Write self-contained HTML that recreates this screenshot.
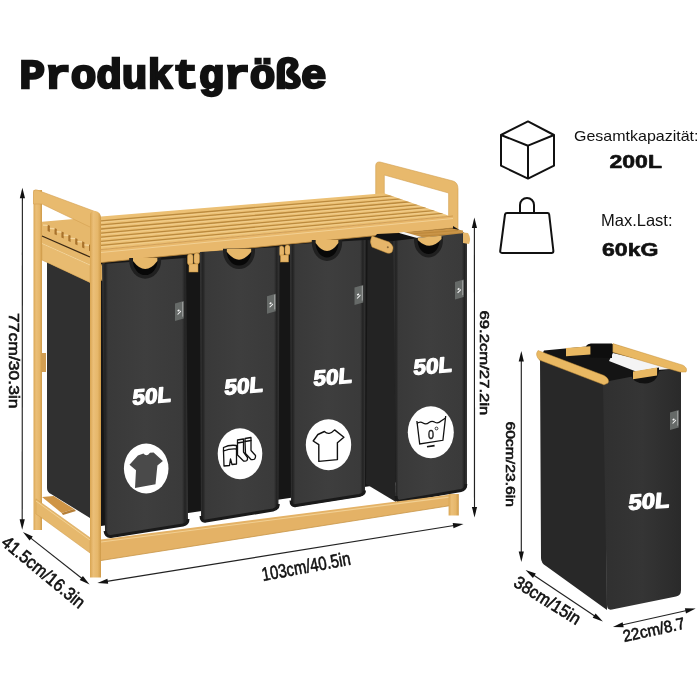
<!DOCTYPE html>
<html><head><meta charset="utf-8">
<style>
html,body{margin:0;padding:0;background:#fff;width:700px;height:700px;overflow:hidden}
svg{display:block;will-change:transform}
</style></head>
<body>
<svg width="700" height="700" viewBox="0 0 700 700" font-family="Liberation Sans, sans-serif">
<defs>
<linearGradient id="binf" x1="0" y1="0" x2="1" y2="0">
<stop offset="0" stop-color="#383838"/><stop offset="0.035" stop-color="#222"/><stop offset="0.07" stop-color="#393939"/><stop offset="0.5" stop-color="#3e3e3e"/><stop offset="0.93" stop-color="#3a3a3a"/><stop offset="0.965" stop-color="#222"/><stop offset="1" stop-color="#383838"/>
</linearGradient>
<linearGradient id="binsm" x1="0" y1="0" x2="1" y2="0">
<stop offset="0" stop-color="#303030"/><stop offset="0.5" stop-color="#353535"/><stop offset="1" stop-color="#2a2a2a"/>
</linearGradient>
<linearGradient id="woodv" x1="0" y1="0" x2="1" y2="0">
<stop offset="0" stop-color="#d9a552"/><stop offset="0.3" stop-color="#ebbf78"/><stop offset="0.7" stop-color="#e6b76a"/><stop offset="1" stop-color="#cf9a48"/>
</linearGradient>
</defs>
<rect width="700" height="700" fill="#fff"/>

<!-- Title -->
<text x="19.5" y="87.8" font-family="Liberation Mono" font-weight="bold" font-size="41" fill="#111" stroke="#111" stroke-width="2.4" textLength="307" lengthAdjust="spacingAndGlyphs">Produktgröße</text>

<!-- ===== MAIN UNIT ===== -->
<!-- right armrest -->
<path d="M375.7 166 Q375.7 161.5 380 162 L453 181 Q458 182.5 458 189 L458 229 L448.6 229 L448.6 193 L384.3 175 L384.3 200 L375.7 200 Z" fill="#e8b96c" stroke="#d2a050" stroke-width="0.6"/>
<!-- dark back region behind bins -->
<path d="M101 258 L453 226 L466 234 L466 472 L195 512 L101 526 Z" fill="#161616"/>

<!-- side fabric panel of bin 1 -->
<path d="M47 262 L90 276 L90 518 L51 494 Q47 492 47 488 Z" fill="#303030"/>
<!-- back-left post -->
<rect x="33.5" y="190" width="8.5" height="340" fill="url(#woodv)"/>
<!-- left side shelf frame (comb + rail) -->
<path d="M42 221.8 L74 219 L90 224 L90 282.5 L42 260 Z" fill="#e6b86c"/>
<path d="M42 243.5 L90 265 L90 282.5 L42 260 Z" fill="#e8bb70" stroke="#d1a052" stroke-width="0.5"/>
<path d="M42 243.5 L90 265" stroke="#f3d49a" stroke-width="1"/>
<g>
<path d="M47.6 224.8 L49.9 225.7 L49.9 232.0 L47.6 231.0 Z" fill="#a8722c"/>
<path d="M43.0 224.5 L47.6 224.8 L47.6 226.1 L43.0 225.8 Z" fill="#f4d69e"/>
<path d="M54.5 228.1 L56.8 229.0 L56.8 235.3 L54.5 234.3 Z" fill="#a8722c"/>
<path d="M49.9 227.8 L54.5 228.1 L54.5 229.4 L49.9 229.1 Z" fill="#f4d69e"/>
<path d="M61.4 231.4 L63.7 232.3 L63.7 238.6 L61.4 237.6 Z" fill="#a8722c"/>
<path d="M56.8 231.1 L61.4 231.4 L61.4 232.7 L56.8 232.4 Z" fill="#f4d69e"/>
<path d="M68.3 234.7 L70.6 235.6 L70.6 241.9 L68.3 240.9 Z" fill="#a8722c"/>
<path d="M63.7 234.4 L68.3 234.7 L68.3 236.0 L63.7 235.7 Z" fill="#f4d69e"/>
<path d="M75.2 238.0 L77.5 238.9 L77.5 245.2 L75.2 244.2 Z" fill="#a8722c"/>
<path d="M70.6 237.7 L75.2 238.0 L75.2 239.3 L70.6 239.0 Z" fill="#f4d69e"/>
<path d="M82.1 241.3 L84.4 242.2 L84.4 248.5 L82.1 247.5 Z" fill="#a8722c"/>
<path d="M77.5 241.0 L82.1 241.3 L82.1 242.6 L77.5 242.3 Z" fill="#f4d69e"/>
<path d="M89.0 244.6 L91.3 245.5 L91.3 251.8 L89.0 250.8 Z" fill="#a8722c"/>
<path d="M84.4 244.3 L89.0 244.6 L89.0 245.9 L84.4 245.6 Z" fill="#f4d69e"/>
</g>
<path d="M42 236 L90 257" stroke="#3a2814" stroke-width="1.3"/>
<!-- left armrest -->
<path d="M33.5 192 Q34 189 37 190 L95 211.5 Q101 214 101 220 L90 227 L42 204 L33.5 204 Z" fill="#e8ba6e" stroke="#d4a050" stroke-width="0.6"/>
<!-- lower left side rail -->
<path d="M42 497 L53.6 496 L74 509 L61.6 513 Z" fill="#cf9546"/>
<path d="M61.6 513 L74 509 L76 511 L63 515 Z" fill="#b57f38"/>
<path d="M35.9 498.9 L90 537.7 L90 553 L42 518 L35.9 514 Z" fill="#e6b86c" stroke="#cf9a48" stroke-width="0.5"/>
<path d="M36 501 L90 540" stroke="#f2d194" stroke-width="1"/>

<!-- shelf top surface -->
<clipPath id="shelfclip"><path d="M101 216.6 L384 193.2 L448 215.5 L453 216 L101 249.6 Z"/></clipPath>
<path d="M101 216.6 L384 193.2 L448 215.5 L453 216 L101 249.6 Z" fill="#ecc074"/>
<g clip-path="url(#shelfclip)">
<g stroke="#bb8a3e" stroke-width="1.3" fill="none">
<path d="M101 220.8 L453 190.6"/>
<path d="M101 224.9 L453 194.3"/>
<path d="M101 229.0 L453 198.0"/>
<path d="M101 233.1 L453 201.6"/>
<path d="M101 237.2 L453 205.2"/>
<path d="M101 241.3 L453 208.8"/>
<path d="M101 245.4 L453 212.4"/>
</g>
<g stroke="#f3d49a" stroke-width="0.8" fill="none" opacity="0.8">
<path d="M101 222.4 L453 192"/>
<path d="M101 226.5 L453 195.7"/>
<path d="M101 230.6 L453 199.4"/>
<path d="M101 234.7 L453 203"/>
<path d="M101 238.8 L453 206.6"/>
<path d="M101 242.9 L453 210.2"/>
<path d="M101 247 L453 213.8"/>
</g>
</g>
<!-- shelf front rail -->
<path d="M101 249.6 L453 216 L453 228 L101 262.6 Z" fill="#e8b86c"/>
<path d="M101 249.6 L453 216" stroke="#c9944a" stroke-width="0.8"/>
<path d="M101 252.5 L453 218.5" stroke="#f2d093" stroke-width="1"/>
<path d="M101 262.6 L453 228" stroke="#b9863c" stroke-width="0.8"/>

<!-- connectors -->
<g fill="#e6b66a" stroke="#c38e3a" stroke-width="0.5">
<rect x="101" y="264" width="5" height="17" rx="2"/>
<rect x="187.5" y="254" width="5.5" height="11" rx="2.5"/>
<rect x="194" y="253" width="5.5" height="11" rx="2.5"/>
<rect x="189" y="264" width="9" height="8"/>
<rect x="279" y="246" width="5" height="10" rx="2.5"/>
<rect x="285" y="245" width="5" height="10" rx="2.5"/>
<rect x="280.5" y="255" width="8" height="7"/>
</g>

<!-- bin 1 -->
<path d="M102 264 L186 258 L188 520 Q188 525 183 525.5 L111 537 Q105 538 105 532 Z" fill="url(#binf)"/>
<path d="M105 531 Q106 537 111 536.5 L183 525 Q188 524 188 519" fill="none" stroke="#1a1a1a" stroke-width="3"/>
<!-- bin 2 -->
<path d="M200 252 L279.5 247 L278.5 505 Q278.5 510 273.5 510.5 L206 521.5 Q201 522 201 517 Z" fill="url(#binf)"/>
<path d="M201 516 Q201 522 206 521 L273 510 Q278 509 278.5 504" fill="none" stroke="#1a1a1a" stroke-width="3"/>
<!-- bin 3 -->
<path d="M290 244.5 L365.5 240 L365 491.5 Q365 495.5 360 496.5 L296 506.5 Q291 507 291 501.5 Z" fill="url(#binf)"/>
<path d="M291 500.5 Q291 506.5 296 505.5 L359 495.5 Q364.5 494.5 364.5 490.5" fill="none" stroke="#1a1a1a" stroke-width="3"/>
<!-- bin4 slide board -->
<path d="M405 232.5 L452 228.5 L463 230.5 L463 236.5 L412 239.5 Z" fill="#c99447"/>
<path d="M410 234 L458 230.5 M414 236.5 L460 233.5" stroke="#b98436" stroke-width="0.8"/>
<!-- bin4 white stripe -->
<path d="M399 232.5 L404 232 L425 238 L425 240 L402 236 Z" fill="#f6f6f6"/>
<!-- bin4 interior -->
<path d="M377 234 L399 233 L424 240 L394 242 L372 240 Z" fill="#121212"/>
<!-- bin 4 side -->
<path d="M367.6 240 L393.5 240.9 L396 502 L366 484 Z" fill="#232323"/>
<!-- bin 4 front -->
<path d="M393.3 240.9 L465 233 L467 235 L467 485 Q467 490 462 490.5 L401 502 Q396 502.5 396 497 Z" fill="url(#binf)"/>
<path d="M396 496 Q396 502 401 501 L461 490.5 Q465.8 489.5 465.8 484" fill="none" stroke="#1a1a1a" stroke-width="3"/>

<!-- handles -->
<path d="M129.2 258.0 L129.2 260.0 A16 18.7 0 0 0 161.2 260.0 L161.2 258.0 Z" fill="#202020"/>
<path d="M132.8 258.0 L132.8 260.0 A12.4 15.1 0 0 0 157.6 260.0 L157.6 258.0 Z" fill="#080808"/>
<path d="M133.0 258.0 L133.0 261.0 Q145.2 277.0 157.4 261.0 L157.4 258.0 Z" fill="#e7b86a"/>
<path d="M223 248.7 L223 250.7 A16 18.4 0 0 0 255 250.7 L255 248.7 Z" fill="#202020"/>
<path d="M226.6 248.7 L226.6 250.7 A12.4 14.8 0 0 0 251.4 250.7 L251.4 248.7 Z" fill="#080808"/>
<path d="M226.8 248.7 L226.8 251.7 Q239 267.7 251.2 251.7 L251.2 248.7 Z" fill="#e7b86a"/>
<path d="M311.8 240.1 L311.8 242.1 A15.2 18.9 0 0 0 342.2 242.1 L342.2 240.1 Z" fill="#202020"/>
<path d="M315.4 240.1 L315.4 242.1 A11.6 15.3 0 0 0 338.6 242.1 L338.6 240.1 Z" fill="#080808"/>
<path d="M315.6 240.1 L315.6 243.1 Q327 259.1 338.4 243.1 L338.4 240.1 Z" fill="#e7b86a"/>
<path d="M414 238 L414 240 A14.5 17.5 0 0 0 443 240 L443 237 Z" fill="#202020"/>
<path d="M417.6 237.8 L417.6 240 A11 14 0 0 0 439.6 240 L439.6 237.5 Z" fill="#080808"/>
<path d="M417.8 237.7 L417.8 240 Q430 252 441.5 239 L441.5 235.8 Z" fill="#e7b86a"/>
<path d="M42 353 L46 353 L46 372 L42 372 Z" fill="#d29e52"/>
<!-- bin4 rod left end -->
<path d="M372 236 L389 242 Q395 246 392 252 Q390 254 387 253 L372 247 Q369 241.5 372 236 Z" fill="#e6b66a" stroke="#c38e3a" stroke-width="0.5"/><circle cx="387.8" cy="247.2" r="1" fill="#8a6a3a"/>
<path d="M463 232.5 L468 233 Q471.5 238.5 469 244 L463 243 Z" fill="#e6b66a"/>

<!-- labels -->
<g transform="translate(175,301)"><path d="M0 2.5 L8.7 0 L8.7 17.5 L0 20 Z" fill="#666a68"/><path d="M2.3 9.5 L4 8.3 L4.8 9.8 L3 10.8 Z M2.2 13.2 L5.8 9.6 L6.2 10.6 L3 13.8 Z" fill="#f4f4f4"/><path d="M7.3 1 L8.2 0.8 L8.2 15.5 L7.3 15.8 Z" fill="#c8c8c8" opacity="0.7"/></g>
<g transform="translate(267,293.8)"><path d="M0 2.5 L8.7 0 L8.7 17.5 L0 20 Z" fill="#666a68"/><path d="M2.3 9.5 L4 8.3 L4.8 9.8 L3 10.8 Z M2.2 13.2 L5.8 9.6 L6.2 10.6 L3 13.8 Z" fill="#f4f4f4"/><path d="M7.3 1 L8.2 0.8 L8.2 15.5 L7.3 15.8 Z" fill="#c8c8c8" opacity="0.7"/></g>
<g transform="translate(354.5,285)"><path d="M0 2.5 L8.7 0 L8.7 17.5 L0 20 Z" fill="#666a68"/><path d="M2.3 9.5 L4 8.3 L4.8 9.8 L3 10.8 Z M2.2 13.2 L5.8 9.6 L6.2 10.6 L3 13.8 Z" fill="#f4f4f4"/><path d="M7.3 1 L8.2 0.8 L8.2 15.5 L7.3 15.8 Z" fill="#c8c8c8" opacity="0.7"/></g>
<g transform="translate(455,279.4)"><path d="M0 2.5 L8.7 0 L8.7 17.5 L0 20 Z" fill="#666a68"/><path d="M2.3 9.5 L4 8.3 L4.8 9.8 L3 10.8 Z M2.2 13.2 L5.8 9.6 L6.2 10.6 L3 13.8 Z" fill="#f4f4f4"/><path d="M7.3 1 L8.2 0.8 L8.2 15.5 L7.3 15.8 Z" fill="#c8c8c8" opacity="0.7"/></g>

<!-- front-left post -->
<path d="M90 215 Q90 211 95 211 Q101 212 101 218 L101 577.4 L90 577.4 Z" fill="url(#woodv)"/>
<!-- bottom front rail -->
<path d="M101 539.5 L451 494.5 L451 505.5 L101 560.5 Z" fill="#e4b266"/>
<path d="M101 542 L451 496.8" fill="none" stroke="#f1cf92" stroke-width="1.2"/>
<path d="M101 560.5 L451 505.5" fill="none" stroke="#c89548" stroke-width="0.8"/>
<!-- right leg -->
<rect x="448.6" y="494" width="10.2" height="21.5" fill="url(#woodv)"/>

<!-- 50L texts -->
<g fill="#fff" font-weight="bold" font-size="21.5" stroke="#fff" stroke-width="1.2" stroke-linejoin="round">
<text transform="translate(132,405) rotate(-5) skewX(-9)" textLength="39" lengthAdjust="spacingAndGlyphs">50L</text>
<text transform="translate(224,395) rotate(-5) skewX(-9)" textLength="39" lengthAdjust="spacingAndGlyphs">50L</text>
<text transform="translate(313,386) rotate(-5) skewX(-9)" textLength="39" lengthAdjust="spacingAndGlyphs">50L</text>
<text transform="translate(413,375) rotate(-5) skewX(-9)" textLength="39" lengthAdjust="spacingAndGlyphs">50L</text>
</g>
<!-- circles -->
<g fill="#fff">
<ellipse cx="146.2" cy="468.5" rx="22.3" ry="25"/>
<ellipse cx="240" cy="453.8" rx="22.3" ry="25.5"/>
<ellipse cx="328.5" cy="444.7" rx="22.7" ry="25.5"/>
<ellipse cx="430.8" cy="432.3" rx="23" ry="26"/>
</g>
<!-- shirt dark -->
<path d="M129.5 464.7 L137.9 455.4 L143.4 453.6 Q146.5 457.5 150 452.8 L153.6 452.6 L162.9 461 L157.4 465.6 L155.5 484.2 L135 488 L136 470.3 Z" fill="#4a4a4a"/>
<!-- shirt outline -->
<path d="M313.2 441 L317.9 434.5 L324.4 431.5 Q329 436 334.6 429.9 L343.9 437.3 L337.4 442.8 L337.4 459.6 L318.8 461.4 L318.8 444.7 Z" fill="none" stroke="#111" stroke-width="1.4" stroke-linejoin="round"/>
<!-- socks + shorts -->
<g fill="none" stroke="#111" stroke-width="1.3" stroke-linejoin="round" stroke-linecap="round">
<path d="M223.5 447.5 Q229.5 444.5 236.5 445.5 L236.5 449 Q229.5 448.5 223.5 451 Z"/>
<path d="M223.5 451 L224 466 L229.5 465.5 L230.5 459 L232 464.5 L236.5 464 L236.5 449"/>
<path d="M237.5 440 L243.5 439 L243.5 442 L237.5 443 Z"/>
<path d="M237.5 443 L237.5 455 L243.5 461 Q248 462 247.5 457.5 L243.5 452 L243.5 442"/>
<path d="M245 438.5 L251 437.5 L251 440.5 L245 441.5 Z"/>
<path d="M245 441.5 L245.5 453.5 L251 459.5 Q256 460.5 255.5 455.5 L251 450.5 L251 440.5"/>
</g>
<!-- wash icon -->
<g fill="none" stroke="#111" stroke-width="1.3">
<path d="M416.9 423.6 Q420 421 423 423 Q426 425 429 422.5 Q432 420.5 435 422.3 Q438 424 441 421 L445.7 418"/>
<path d="M416.9 421 L419.7 444 L442.9 440.3 L445.7 416"/>
<path d="M427 446.8 L434.6 445.6" stroke-width="1.6"/>
</g>
<text x="428" y="438.5" font-size="13" fill="#111" stroke="#111" stroke-width="0.4" textLength="6" lengthAdjust="spacingAndGlyphs">0</text>
<circle cx="436.5" cy="428.5" r="1.4" fill="none" stroke="#111" stroke-width="0.8"/>

<!-- ===== DIMENSIONS ===== -->
<g stroke="#222" stroke-width="1.15" fill="none">
<line x1="22.4" y1="195.7" x2="22.2" y2="521.8"/>
<line x1="474.4" y1="225.5" x2="474.5" y2="509.4"/>
<line x1="521.3" y1="358.9" x2="521.3" y2="553.9"/>
<line x1="29.2" y1="536.9" x2="83.3" y2="579.5"/>
<line x1="105.3" y1="581.6" x2="455.6" y2="525.3"/>
<line x1="532.3" y1="574.3" x2="596.2" y2="617.0"/>
<line x1="620.7" y1="625.3" x2="687.9" y2="610.3"/>
</g>
<g fill="#111">
<path d="M22.4 187.7 L19.8 198.2 L25.0 198.2 Z"/>
<path d="M22.2 529.8 L19.6 519.3 L24.8 519.3 Z"/>
<path d="M474.4 217.5 L471.8 228.0 L477.0 228.0 Z"/>
<path d="M474.5 517.4 L471.9 506.9 L477.1 506.9 Z"/>
<path d="M521.3 350.9 L518.7 361.4 L523.9 361.4 Z"/>
<path d="M521.3 561.9 L518.7 551.4 L523.9 551.4 Z"/>
<path d="M22.9 532.0 L29.6 540.5 L32.8 536.4 Z"/>
<path d="M89.6 584.4 L79.7 580.0 L82.9 575.9 Z"/>
<path d="M97.4 582.9 L108.2 583.8 L107.4 578.7 Z"/>
<path d="M463.5 524.0 L453.5 528.2 L452.7 523.1 Z"/>
<path d="M525.6 569.9 L532.9 577.9 L535.8 573.6 Z"/>
<path d="M602.9 621.4 L592.7 617.7 L595.6 613.4 Z"/>
<path d="M612.9 627.0 L623.7 627.3 L622.6 622.2 Z"/>
<path d="M695.7 608.6 L686.0 613.4 L684.9 608.3 Z"/>
</g>
<g fill="#111" font-size="16" stroke="#111" stroke-width="0.6">
<text transform="translate(9.3,313) rotate(90)" font-size="15.5" textLength="95.6" lengthAdjust="spacingAndGlyphs">77cm/30.3in</text>
<text transform="translate(479.6,310.4) rotate(90)" font-size="13.5" textLength="105" lengthAdjust="spacingAndGlyphs">69.2cm/27.2in</text>
<text transform="translate(505.7,421.4) rotate(90)" font-size="12.5" textLength="85.6" lengthAdjust="spacingAndGlyphs">60cm/23.6in</text>
<text transform="translate(0.3,544.2) rotate(39.6)" font-size="18" textLength="102" lengthAdjust="spacingAndGlyphs">41.5cm/16.3in</text>
<text transform="translate(263,581) rotate(-10.5)" font-size="19" textLength="90" lengthAdjust="spacingAndGlyphs">103cm/40.5in</text>
<text transform="translate(512.5,585.5) rotate(32)" font-size="17.5" textLength="75" lengthAdjust="spacingAndGlyphs">38cm/15in</text>
<text transform="translate(624.3,642) rotate(-12.5)" font-size="16.5" textLength="63" lengthAdjust="spacingAndGlyphs">22cm/8.7</text>
</g>

<!-- ===== SMALL BIN ===== -->
<!-- side face -->
<path d="M540 358 L605.7 381 L607 610 L546 566 Q541 563 541 558 Z" fill="#282828"/>
<!-- front face -->
<path d="M603 381 L681 366.5 L681 590 Q681 595.7 676 596.5 L612 609.5 Q607 610.5 607 605 Z" fill="url(#binsm)"/>
<!-- interior -->
<path d="M544 350.4 L612.9 344 L684 366.5 L604 382 L539 360 Z" fill="#141414"/>
<path d="M612.9 352.9 L677 368.6 L636 371.5 L609 361 Z" fill="#f4f4f4"/>
<!-- strap -->
<path d="M586 346 Q588 343 592 343.5 L612 343.5 L612 358 L590 357.5 Z" fill="#0e0e0e"/>
<!-- back handle rod -->
<path d="M566 348 L590.4 346.3 L590.4 354.5 L566 356.2 Z" fill="#e9b862"/>
<!-- right rod -->
<path d="M612.9 343.6 L682.9 365.2 Q688 368 686 372 L680 372 L612.9 352.2 Z" fill="#e9b862" stroke="#c9943e" stroke-width="0.5"/>
<!-- front handle -->
<path d="M631 372.5 L659 367.5 L659 371 Q657 383 645 383.5 Q633 383.5 631 375 Z" fill="#111"/>
<path d="M633 371.4 L657.1 367.5 L657.1 375.5 L633 379.3 Z" fill="#e9b862"/>
<!-- left rod -->
<path d="M538 350.5 L604 375.5 Q610 379 608 383 L604 384.8 L539.5 360 Q534.5 355 538 350.5 Z" fill="#e9b862" stroke="#c9943e" stroke-width="0.5"/>
<g transform="translate(670,410)"><path d="M0 2.5 L8.7 0 L8.7 17.5 L0 20 Z" fill="#666a68"/><path d="M2.3 9.5 L4 8.3 L4.8 9.8 L3 10.8 Z M2.2 13.2 L5.8 9.6 L6.2 10.6 L3 13.8 Z" fill="#f4f4f4"/><path d="M7.3 1 L8.2 0.8 L8.2 15.5 L7.3 15.8 Z" fill="#c8c8c8" opacity="0.7"/></g>
<text transform="translate(628,510) rotate(-4) skewX(-9)" fill="#fff" font-weight="bold" font-size="21.5" stroke="#fff" stroke-width="1.2" stroke-linejoin="round" textLength="41" lengthAdjust="spacingAndGlyphs">50L</text>

<!-- ===== ICONS ===== -->
<g fill="none" stroke="#111" stroke-width="2" stroke-linejoin="round">
<path d="M528 121.4 L554 135 L554 165.7 L528 178.6 L501 165.7 L501 135 Z"/>
<path d="M501 135 L528 145.7 L554 135 M528 145.7 L528 178.6"/>
<path d="M520 213 L520 205 A7 7 0 0 1 534 205 L534 213"/>
<path d="M507 212.9 L547.5 212.9 Q549 212.9 549.2 214.5 L553.4 251 Q553.4 252.9 551.5 252.9 L502 252.9 Q500 252.9 500.2 251 L505 214.5 Q505.3 212.9 507 212.9 Z"/>
</g>
<g fill="#111">
<text x="574" y="140.9" font-size="15" textLength="124.5" lengthAdjust="spacingAndGlyphs">Gesamtkapazität:</text>
<text x="609.5" y="168" font-size="19" font-weight="bold" stroke="#111" stroke-width="0.6" stroke-linejoin="round" textLength="52.5" lengthAdjust="spacingAndGlyphs">200L</text>
<text x="601" y="225.7" font-size="16.5">Max.Last:</text>
<text x="602" y="255.6" font-size="19" font-weight="bold" stroke="#111" stroke-width="0.6" stroke-linejoin="round" textLength="56.5" lengthAdjust="spacingAndGlyphs">60kG</text>
</g>
</svg>
</body></html>
